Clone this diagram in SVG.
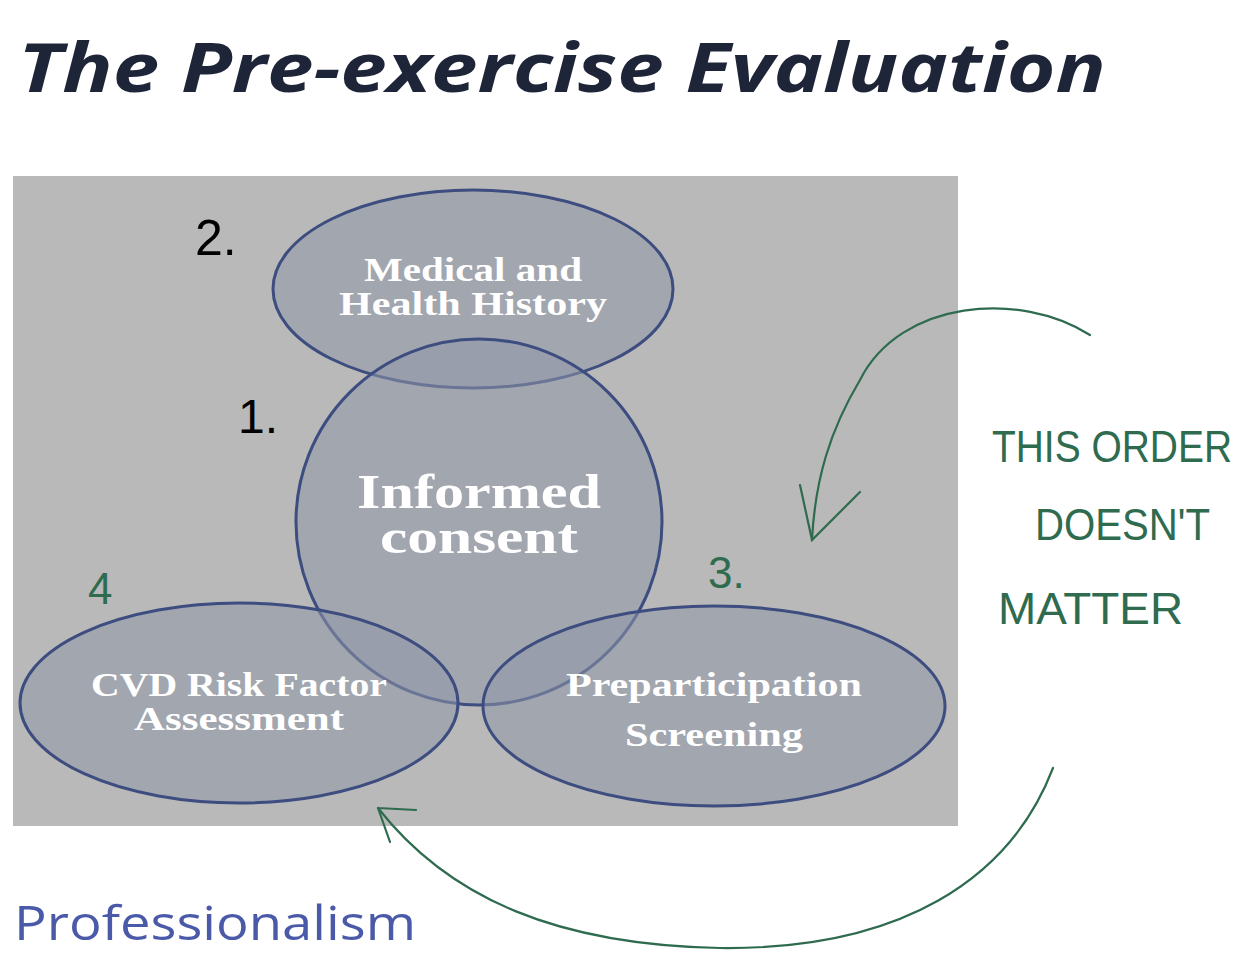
<svg xmlns="http://www.w3.org/2000/svg" width="1255" height="976" viewBox="0 0 1255 976">
<style>
.e{fill:#8f97a8;fill-opacity:0.55;stroke:#3d4d80;stroke-width:3}
.w{font-family:"Liberation Serif",serif;font-weight:bold;fill:#fff;text-anchor:middle}
.h{font-family:"Liberation Sans",sans-serif;fill:#000}
.g{font-family:"Liberation Sans",sans-serif;fill:#2e6b4f;font-size:44px}
.ln{fill:none;stroke:#2e6b4f;stroke-width:2.2;stroke-linecap:round}
</style>
<rect width="1255" height="976" fill="#fff"/>
<text x="18" y="92" font-family="Open Sans,sans-serif" font-weight="bold" font-style="italic" font-size="68" fill="#1e2538" textLength="1088" lengthAdjust="spacingAndGlyphs">The Pre-exercise Evaluation</text>
<rect x="13" y="176" width="945" height="650" fill="#b9b9b9"/>
<g id="medical"><ellipse class="e" cx="473" cy="289" rx="200" ry="99"/><text class="w" font-size="33" x="473" y="281" textLength="218" lengthAdjust="spacingAndGlyphs">Medical and</text><text class="w" font-size="33" x="473" y="315" textLength="268" lengthAdjust="spacingAndGlyphs">Health History</text></g>
<g id="consent"><circle class="e" cx="479" cy="522" r="183"/><text class="w" font-size="48" x="479" y="508" textLength="244" lengthAdjust="spacingAndGlyphs">Informed</text><text class="w" font-size="48" x="479" y="553" textLength="198" lengthAdjust="spacingAndGlyphs">consent</text></g>
<g id="cvd"><ellipse class="e" cx="239" cy="703" rx="219" ry="100"/><text class="w" font-size="33" x="239" y="696" textLength="296" lengthAdjust="spacingAndGlyphs">CVD Risk Factor</text><text class="w" font-size="33" x="239" y="730" textLength="210" lengthAdjust="spacingAndGlyphs">Assessment</text></g>
<g id="prep"><ellipse class="e" cx="714" cy="706" rx="231" ry="100"/><text class="w" font-size="33" x="714" y="696" textLength="296" lengthAdjust="spacingAndGlyphs">Preparticipation</text><text class="w" font-size="33" x="714" y="746" textLength="178" lengthAdjust="spacingAndGlyphs">Screening</text></g>
<text class="h" x="195" y="255" font-size="50">2.</text>
<text class="h" x="238" y="433" font-size="48">1.</text>
<text class="g" x="88" y="604" font-size="56">4</text>
<text class="g" x="708" y="588" font-size="48">3.</text>
<text class="g" x="992" y="462" textLength="240" lengthAdjust="spacingAndGlyphs">THIS ORDER</text>
<text class="g" x="1035" y="540" textLength="175" lengthAdjust="spacingAndGlyphs">DOESN'T</text>
<text class="g" x="998" y="624" textLength="185" lengthAdjust="spacingAndGlyphs">MATTER</text>
<g id="connectors">
<path class="ln" d="M1090 335 C1020 290 900 300 860 380 C830 430 815 480 812 540"/>
<path class="ln" d="M800 485 L812 540 L860 492"/>
<path class="ln" d="M1053 768 C1010 880 900 950 720 948 C560 945 450 900 378 808"/>
<path class="ln" d="M378 808 L416 810 M378 808 L390 842"/>
</g>
<text x="14" y="940" font-family="Open Sans,sans-serif" font-size="48" fill="#4a5aa8" textLength="402" lengthAdjust="spacingAndGlyphs">Professionalism</text>
</svg>
